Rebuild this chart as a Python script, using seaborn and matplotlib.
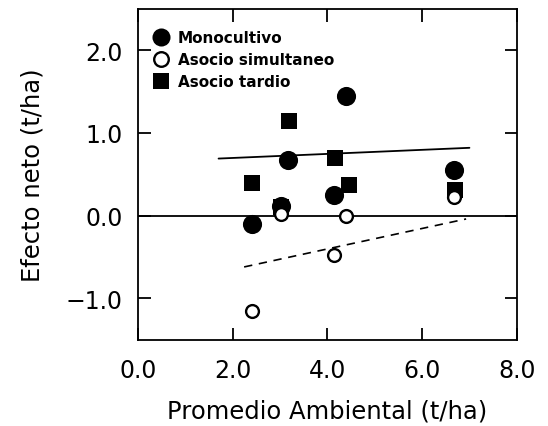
import matplotlib
matplotlib.use("Agg")
import matplotlib.pyplot as plt
from matplotlib.lines import Line2D
import seaborn as sns
import pandas as pd

# Data
x_mono = [2.40, 3.02, 3.17, 4.14, 4.40, 6.67]
y_mono = [-0.10, 0.12, 0.67, 0.25, 1.45, 0.55]

x_simul = [2.40, 3.02, 4.14, 4.40, 6.67]
y_simul = [-1.15, 0.02, -0.48, 0.00, 0.23]

x_tardio = [2.40, 3.02, 3.18, 4.15, 4.45, 6.69]
y_tardio = [0.39, 0.10, 1.14, 0.70, 0.37, 0.31]

# regression lines (endpoints)
x_fit_solid = [1.70, 7.00]
y_fit_solid = [0.69, 0.82]
x_fit_dash = [2.24, 6.93]
y_fit_dash = [-0.62, -0.04]

labels = ["Monocultivo", "Asocio simultaneo", "Asocio tardio"]
x_ticks = [0.0, 2.0, 4.0, 6.0, 8.0]
y_ticks = [-1.0, 0.0, 1.0, 2.0]

sns.set_theme(style="white")
plt.rcParams['font.family'] = ['DejaVu Sans']
plt.rcParams['axes.unicode_minus'] = True
plt.rcParams['text.color'] = 'black'
plt.rcParams['axes.labelcolor'] = 'black'
plt.rcParams['xtick.color'] = 'black'
plt.rcParams['ytick.color'] = 'black'

fig = plt.figure(figsize=(5.48, 4.27), dpi=100)
ax = fig.add_axes([0.252, 0.202, 0.691, 0.775])

df_m = pd.DataFrame({"x": x_mono, "y": y_mono})
df_s = pd.DataFrame({"x": x_simul, "y": y_simul})
df_t = pd.DataFrame({"x": x_tardio, "y": y_tardio})

ax.axhline(0, color="black", lw=1.3, zorder=1)
sns.lineplot(x=x_fit_solid, y=y_fit_solid, ax=ax, color="black", lw=1.3, zorder=1)
sns.lineplot(x=x_fit_dash, y=y_fit_dash, ax=ax, color="black", lw=1.2,
             linestyle=(0, (5, 4)), zorder=1)

sns.scatterplot(data=df_t, x="x", y="y", ax=ax, marker="s", s=120, color="black",
                edgecolor="black", linewidth=0, zorder=3)
sns.scatterplot(data=df_s, x="x", y="y", ax=ax, marker="o", s=85, facecolor="white",
                edgecolor="black", linewidth=1.7, zorder=4)
sns.scatterplot(data=df_m, x="x", y="y", ax=ax, marker="o", s=190, color="black",
                edgecolor="black", linewidth=0, zorder=3)

handles = [
    Line2D([], [], marker="o", ls="none", ms=13, color="black", mew=0),
    Line2D([], [], marker="o", ls="none", ms=10.5, mfc="white", mec="black", mew=1.7),
    Line2D([], [], marker="s", ls="none", ms=11, color="black", mew=0),
]
leg = ax.legend(handles, labels, loc="upper left", frameon=False,
                prop={"weight": "bold", "size": 11}, handletextpad=0.55,
                borderaxespad=0, borderpad=0, labelspacing=0.45,
                handlelength=1.2, bbox_to_anchor=(0.035, 0.935))
for t in leg.get_texts():
    t.set_color("black")

ax.set_xlim(0, 8)
ax.set_ylim(-1.5, 2.5)
ax.set_xticks(x_ticks)
ax.set_xticklabels([f"{v:.1f}" for v in x_ticks])
ax.set_yticks(y_ticks)
ax.set_yticklabels([f"{v:.1f}".replace("-", "\u2212") for v in y_ticks])
ax.tick_params(direction="in", length=9, width=1.3, top=True, right=True,
               bottom=True, left=True, labelsize=17, colors="black")
ax.tick_params(axis="x", pad=13)
ax.tick_params(axis="y", pad=11)
for sp in ax.spines.values():
    sp.set_color("black")
    sp.set_linewidth(1.3)

ax.set_xlabel("Promedio Ambiental (t/ha)", fontsize=17.5, labelpad=12, color="black")
ax.set_ylabel("Efecto neto (t/ha)", fontsize=17.5, labelpad=15, color="black")

fig.savefig("out.png", dpi=100)
